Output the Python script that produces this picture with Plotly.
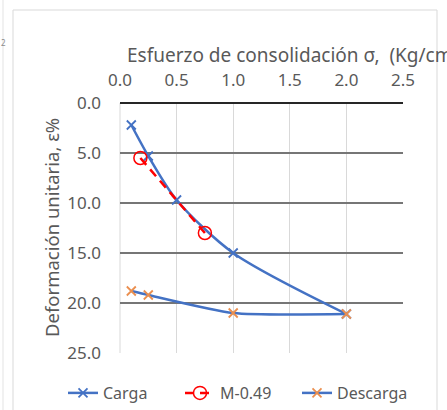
import plotly.graph_objects as go

# Data
carga_x = [0.1, 0.25, 0.5, 1.0, 2.0]
carga_y = [2.2, 5.3, 9.7, 15.0, 21.1]

m049_x = [0.18, 0.75]
m049_y = [5.5, 13.0]

descarga_x = [2.0, 1.0, 0.25, 0.1]
descarga_y = [21.1, 21.0, 19.2, 18.8]

x_ticks = [0.0, 0.5, 1.0, 1.5, 2.0, 2.5]
y_ticks = [0.0, 5.0, 10.0, 15.0, 20.0, 25.0]

BLUE = "#4472C4"
ORANGE = "#EB8F4F"
RED = "#FF0000"
GRAY = "#595959"
FONT = "Noto Sans"

W, H = 447, 410
L, R, T, B = 120, 44, 103, 57
PW, PH = W - L - R, H - T - B

def fx(px):
    return (px - L) / PW

def fy(py):
    return (H - B - py) / PH

fig = go.Figure()
fig.add_trace(go.Scatter(
    x=carga_x, y=carga_y, name="Carga", mode="lines+markers",
    line=dict(color=BLUE, width=2.5, shape="spline", smoothing=0.8),
    marker=dict(symbol="x-thin", size=9, line=dict(color=BLUE, width=1.8)),
))
fig.add_trace(go.Scatter(
    x=m049_x, y=m049_y, name="M-0.49", mode="lines+markers",
    line=dict(color=RED, width=2.5, dash="9px,6px"),
    marker=dict(symbol="circle-open", size=13, color=RED, line=dict(color=RED, width=1.5)),
))
fig.add_trace(go.Scatter(
    x=descarga_x, y=descarga_y, name="Descarga", mode="lines+markers",
    line=dict(color=BLUE, width=2.5, shape="spline", smoothing=0.6),
    marker=dict(symbol="x-thin", size=9, line=dict(color=ORANGE, width=1.8)),
))

fig.update_xaxes(
    side="top", range=[0, 2.5], tickvals=x_ticks,
    ticktext=[f"{v:.1f}" for v in x_ticks],
    showgrid=True, gridcolor="#d9d9d9", gridwidth=1,
    zeroline=False, showline=False, ticks="", automargin=False,
    tickfont=dict(family=FONT, size=17, color=GRAY),
    ticklabelstandoff=13,
)
fig.update_yaxes(
    range=[25, 0], tickvals=y_ticks,
    ticktext=[f"{v:.1f}" for v in y_ticks],
    showgrid=True, gridcolor="#767676", gridwidth=1.5,
    zeroline=True, zerolinecolor="#262626", zerolinewidth=2,
    showline=False, ticks="", automargin=False,
    tickfont=dict(family=FONT, size=17, color=GRAY),
    ticklabelstandoff=18,
)

shapes = [
    dict(type="rect", xref="paper", yref="paper",
         x0=fx(13), x1=fx(437), y0=fy(430), y1=fy(10),
         line=dict(color="#d9d9d9", width=1), layer="below"),
    dict(type="line", xref="paper", yref="paper",
         x0=fx(3), x1=fx(3), y0=fy(430), y1=fy(0),
         line=dict(color="#e3e3e3", width=1), layer="below"),
    dict(type="line", xref="paper", yref="paper",
         x0=0, x1=0, y0=0, y1=1,
         line=dict(color="#d9d9d9", width=1), layer="below"),
]

annotations = [
    dict(text="Esfuerzo de consolidación σ,\u00a0 (Kg/cm²)", xref="paper", yref="paper",
         x=fx(125), y=fy(55), xanchor="left", yanchor="middle", showarrow=False,
         font=dict(family=FONT, size=19, color=GRAY)),
    dict(text="Deformación unitaria, ε%", xref="paper", yref="paper",
         x=fx(51), y=0.5, xanchor="center", yanchor="middle", textangle=-90,
         showarrow=False, font=dict(family=FONT, size=18.5, color=GRAY)),
    dict(text="2", xref="paper", yref="paper", x=fx(4), y=fy(42),
         xanchor="center", yanchor="middle", showarrow=False,
         font=dict(family=FONT, size=8, color="#8c8c8c")),
]

fig.update_layout(
    width=W, height=H,
    margin=dict(l=L, r=R, t=T, b=B, pad=0, autoexpand=False),
    paper_bgcolor="white", plot_bgcolor="white",
    shapes=shapes, annotations=annotations,
    legend=dict(orientation="h", x=fx(63), xanchor="left", y=fy(393), yanchor="middle",
                font=dict(family=FONT, size=16, color=GRAY),
                entrywidth=72, entrywidthmode="pixels",
                tracegroupgap=0, bgcolor="rgba(0,0,0,0)"),
    showlegend=True,
)

fig.write_html("out.html", config={"displayModeBar": False},
               post_script="document.body.style.margin='0';document.body.style.overflow='hidden';")
